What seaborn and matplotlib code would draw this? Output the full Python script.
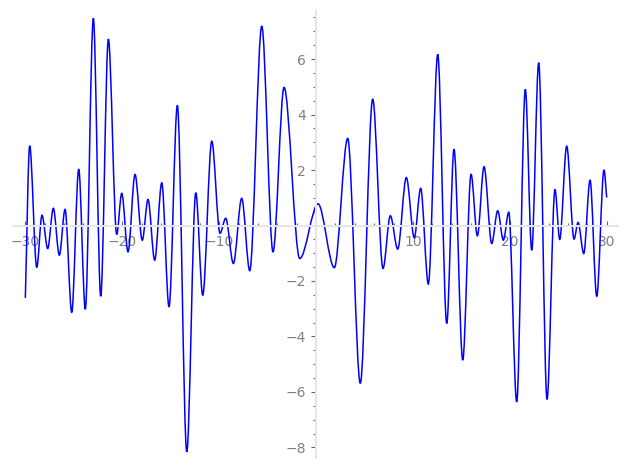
import numpy as np
import seaborn as sns
import matplotlib
matplotlib.use("Agg")
import matplotlib.pyplot as plt
from matplotlib.path import Path
from matplotlib.patches import PathPatch
from matplotlib.ticker import MultipleLocator, FixedLocator

# turning points of the curve (first and last are the ends)
x_pts = [-30.0, -29.55, -28.82, -28.28, -27.69, -27.11, -26.49, -25.90, -25.21, -24.49,
         -23.81, -22.98, -22.22, -21.43, -20.57, -20.05, -19.40, -18.68, -17.93, -17.34,
         -16.65, -15.92, -15.17, -14.31, -13.34, -12.41, -11.69, -10.76, -9.91, -9.32,
         -8.53, -7.67, -6.84, -5.60, -4.44, -3.30, -1.68, 0.21, 1.89, 3.27,
         4.57, 5.85, 6.91, 7.67, 8.43, 9.32, 10.14, 10.80, 11.59, 12.56,
         13.49, 14.24, 15.14, 16.00, 16.65, 17.34, 18.13, 18.75, 19.33, 19.89,
         20.71, 21.60, 22.26, 22.98, 23.84, 24.66, 25.15, 25.87, 26.63, 27.04,
         27.63, 28.28, 28.97, 29.72, 30.0]
y_pts = [-2.61, 2.87, -1.51, 0.37, -0.83, 0.62, -1.07, 0.58, -3.13, 2.03,
         -3.02, 7.47, -2.55, 6.72, -0.32, 1.16, -0.95, 1.84, -0.53, 0.94,
         -1.25, 1.54, -2.93, 4.33, -8.16, 1.18, -2.51, 3.04, -0.28, 0.26,
         -1.37, 0.98, -1.63, 7.19, -0.95, 4.98, -1.19, 0.78, -1.52, 3.14,
         -5.69, 4.56, -1.55, 0.35, -0.85, 1.73, -0.44, 1.34, -2.11, 6.17,
         -3.53, 2.75, -4.85, 1.85, -0.37, 2.12, -0.65, 0.53, -0.53, 0.48,
         -6.36, 4.91, -0.89, 5.87, -6.27, 1.30, -0.50, 2.86, -0.49, 0.11,
         -1.01, 1.64, -2.55, 2.00, 1.01]

x_major = [-30, -20, -10, 10, 20, 30]
y_major = [-8, -6, -4, -2, 2, 4, 6]

sns.set_style("white")
plt.rcParams['font.family'] = ['DejaVu Sans']

fig = plt.figure(figsize=(6.27, 4.70), dpi=100)
ax = fig.add_axes([0.0203, 0.0257, 0.9659, 0.953])
ax.set_xlim(-31.3, 31.2)
ax.set_ylim(-8.38, 7.77)

# smooth curve through the turning points (flat tangent at each turning point)
n = len(x_pts)
verts = [(x_pts[0], y_pts[0])]
codes = [Path.MOVETO]
for i in range(n - 1):
    x0, y0, x1, y1 = x_pts[i], y_pts[i], x_pts[i + 1], y_pts[i + 1]
    dx, dy = x1 - x0, y1 - y0
    c1 = (x0 + dx / 3, y0 + (dy / 3 if i == 0 else 0))
    c2 = (x1 - dx / 3, y1 - (dy / 3 if i == n - 2 else 0))
    verts += [c1, c2, (x1, y1)]
    codes += [Path.CURVE4] * 3
ax.add_patch(PathPatch(Path(verts, codes), fill=False, edgecolor="#0000ff", lw=1.1))

for s in ["top", "right"]:
    ax.spines[s].set_visible(False)
for s in ["left", "bottom"]:
    ax.spines[s].set_position(("data", 0))
    ax.spines[s].set_color("#e6e6e6")
    ax.spines[s].set_linewidth(1.4)

ax.xaxis.set_major_locator(FixedLocator(x_major))
ax.yaxis.set_major_locator(FixedLocator(y_major))
ax.xaxis.set_minor_locator(MultipleLocator(2))
ax.yaxis.set_minor_locator(MultipleLocator(0.5))
ax.set_xticklabels([f"{v:d}".replace("-", "\u2212") for v in x_major])
ax.set_yticklabels([f"{v:d}".replace("-", "\u2212") for v in y_major])

ax.tick_params(axis="x", which="both", bottom=True, direction="in", colors="#666666",
               labelcolor="#808080", labelsize=10, pad=7, width=0.8)
ax.tick_params(axis="y", which="both", left=True, direction="out", colors="#666666",
               labelcolor="#808080", labelsize=10, pad=4, width=0.8)
ax.tick_params(which="major", length=3.5)
ax.tick_params(which="minor", length=2)

fig.savefig("out.png", dpi=100)
